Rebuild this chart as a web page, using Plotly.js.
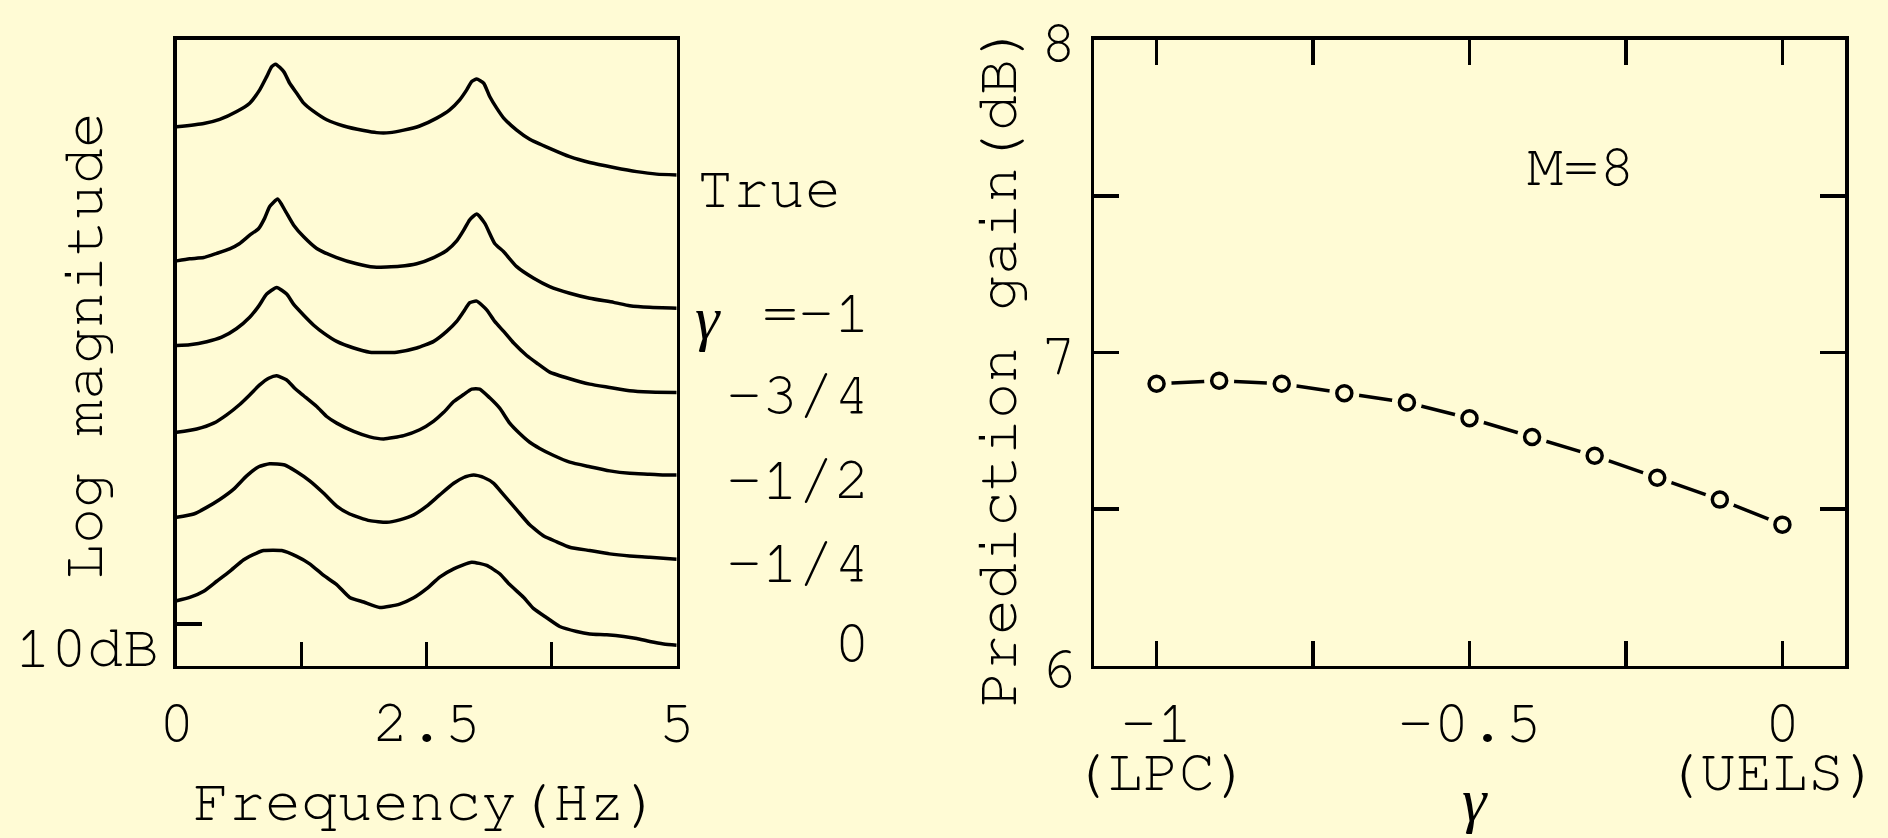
<!DOCTYPE html>
<html>
<head>
<meta charset="utf-8">
<script src="https://cdn.plot.ly/plotly-3.0.1.min.js"></script>
<style>
  html, body { margin: 0; padding: 0; background: #FFFBD5; }
  #chart { width: 1888px; height: 838px; }
</style>
</head>
<body>
<div id="chart"></div>
<script>
// ---- Left panel: log-magnitude spectra (stacked, dB), frequency in Hz ----
const fTrue   = [0, 0.27, 0.43, 0.6, 0.73, 0.83, 0.9, 0.95, 0.99, 1.07, 1.13, 1.2, 1.27, 1.37, 1.5, 1.67, 1.87, 2.0, 2.13, 2.27, 2.43, 2.6, 2.73, 2.83, 2.9, 2.95, 3.0, 3.07, 3.13, 3.2, 3.27, 3.4, 3.53, 3.73, 3.93, 4.13, 4.37, 4.6, 4.8, 5.0];
const magTrue = [129.8, 130.6, 131.6, 133.5, 135.5, 138.7, 141.9, 144.3, 144.9, 143.1, 140.3, 137.9, 135.5, 133.5, 131.5, 130.0, 128.9, 128.4, 128.4, 129.0, 130.0, 131.9, 133.9, 136.3, 138.7, 140.7, 141.3, 140.3, 137.1, 134.3, 131.9, 129.0, 126.8, 124.6, 122.6, 121.2, 120.0, 119.0, 118.4, 118.2];

const fG1   = [0, 0.13, 0.27, 0.4, 0.53, 0.63, 0.73, 0.82, 0.88, 0.93, 1.01, 1.08, 1.17, 1.27, 1.4, 1.6, 1.8, 1.97, 2.23, 2.4, 2.57, 2.7, 2.8, 2.87, 2.93, 3.0, 3.08, 3.18, 3.27, 3.4, 3.57, 3.73, 3.93, 4.13, 4.37, 4.53, 4.73, 5.0];
const magG1 = [97.5, 98.0, 98.3, 99.3, 100.4, 101.7, 103.7, 105.3, 107.8, 110.6, 112.4, 109.8, 106.1, 103.3, 100.5, 98.3, 96.8, 96.0, 96.2, 96.8, 98.3, 100.0, 102.3, 104.9, 107.4, 108.8, 106.6, 101.7, 99.7, 96.1, 93.3, 91.3, 89.7, 88.5, 87.5, 86.7, 86.3, 86.1];

const fG34   = [0, 0.13, 0.3, 0.45, 0.6, 0.73, 0.82, 0.9, 1.0, 1.1, 1.17, 1.27, 1.37, 1.47, 1.6, 1.77, 1.93, 2.2, 2.4, 2.57, 2.7, 2.8, 2.87, 2.93, 3.0, 3.1, 3.18, 3.27, 3.37, 3.5, 3.6, 3.73, 3.93, 4.13, 4.33, 4.53, 4.73, 5.0];
const magG34 = [77.1, 77.3, 78.0, 79.1, 81.2, 83.9, 86.6, 89.5, 91.1, 89.5, 87.0, 84.4, 82.0, 80.1, 78.1, 76.5, 75.5, 75.5, 76.5, 78.1, 80.5, 82.9, 85.3, 87.4, 87.8, 85.7, 82.9, 80.5, 77.7, 74.7, 72.9, 70.7, 69.1, 67.8, 67.0, 66.2, 65.9, 65.8];

const fG12   = [0, 0.2, 0.37, 0.5, 0.63, 0.73, 0.83, 0.92, 1.0, 1.1, 1.18, 1.27, 1.4, 1.5, 1.6, 1.77, 1.93, 2.07, 2.27, 2.43, 2.57, 2.67, 2.77, 2.87, 2.95, 3.03, 3.13, 3.23, 3.33, 3.43, 3.53, 3.63, 3.77, 3.93, 4.13, 4.33, 4.53, 4.73, 4.87, 5.0];
const magG12 = [56.2, 57.0, 58.4, 60.4, 62.9, 65.2, 67.6, 69.2, 69.8, 68.8, 66.8, 65.0, 62.4, 60.0, 58.4, 56.4, 55.1, 54.6, 55.4, 56.8, 58.9, 61.0, 63.6, 65.3, 66.6, 66.6, 64.5, 62.0, 58.4, 55.9, 53.8, 52.3, 50.6, 49.0, 47.9, 46.9, 46.3, 46.1, 45.9, 45.9];

const fG14   = [0, 0.17, 0.3, 0.43, 0.57, 0.7, 0.82, 0.93, 1.08, 1.2, 1.33, 1.47, 1.6, 1.73, 1.93, 2.1, 2.23, 2.37, 2.5, 2.63, 2.77, 2.87, 2.97, 3.07, 3.17, 3.27, 3.4, 3.53, 3.67, 3.8, 3.93, 4.13, 4.33, 4.53, 4.73, 5.0];
const magG14 = [35.7, 36.5, 38.1, 40.0, 42.5, 45.7, 47.9, 48.6, 48.3, 46.7, 44.5, 41.5, 38.4, 36.5, 34.9, 34.5, 35.1, 36.3, 38.4, 41.1, 43.9, 45.3, 45.9, 45.3, 43.9, 41.1, 37.5, 33.9, 31.2, 29.8, 28.5, 27.7, 26.9, 26.4, 26.1, 25.6];

const fG0   = [0, 0.13, 0.27, 0.4, 0.53, 0.67, 0.8, 0.87, 1.05, 1.2, 1.33, 1.47, 1.6, 1.73, 1.87, 2.03, 2.23, 2.37, 2.5, 2.63, 2.77, 2.95, 3.1, 3.23, 3.33, 3.47, 3.57, 3.7, 3.83, 4.0, 4.13, 4.3, 4.47, 4.6, 4.73, 4.87, 5.0];
const magG0 = [15.6, 16.4, 17.9, 20.3, 22.7, 25.5, 27.1, 27.7, 27.7, 26.3, 24.5, 21.7, 19.5, 16.4, 15.3, 14.0, 14.8, 16.3, 18.5, 21.3, 23.3, 24.9, 24.1, 22.1, 19.5, 16.4, 13.7, 11.5, 9.4, 8.2, 7.6, 7.4, 7.0, 6.5, 5.8, 5.2, 4.9];

const spectraLabels = ['True', '=-1', '-3/4', '-1/2', '-1/4', '0'];
const freqTickVals = [0, 1.25, 2.5, 3.75, 5];
const freqTickText = ['0', '', '2.5', '', '5'];
const scaleBarDb = [10];

// ---- Right panel: prediction gain vs gamma ----
const gammaVals = [-1, -0.9, -0.8, -0.7, -0.6, -0.5, -0.4, -0.3, -0.2, -0.1, 0];
const gainDb    = [6.90, 6.91, 6.90, 6.87, 6.84, 6.79, 6.73, 6.67, 6.60, 6.53, 6.45];
const gammaTickVals = [-1, -0.75, -0.5, -0.25, 0];
const gammaTickText = ['-1', '', '-0.5', '', '0'];
const gainTickVals = [6, 6.5, 7, 7.5, 8];
const gainTickText = ['6', '', '7', '', '8'];

// ---- styling ----
const BG = '#FFFBD5';
const INK = '#000000';
const MONO = '"Nimbus Mono PS", "Nimbus Mono L", FreeMono, "Courier New", Courier, "Liberation Mono", monospace';
const SERIF = '"Liberation Serif", "Times New Roman", serif';
const FS = 60;
const W = 1888, H = 838;
const px = v => v / W;
const py = v => 1 - v / H;

const spectra = [
  [fTrue, magTrue], [fG1, magG1], [fG34, magG34],
  [fG12, magG12], [fG14, magG14], [fG0, magG0]
];

const traces = spectra.map(([f, m]) => ({
  x: f, y: m, xaxis: 'x', yaxis: 'y',
  mode: 'lines', line: { color: INK, width: 3.5, shape: 'spline', smoothing: 0.5 },
  hoverinfo: 'skip'
}));

traces.push({
  x: gammaVals, y: gainDb, xaxis: 'x2', yaxis: 'y2',
  mode: 'lines', line: { color: INK, width: 3.5 }, hoverinfo: 'skip'
});
// background discs leave a small gap between each segment and its circle
traces.push({
  x: gammaVals, y: gainDb, xaxis: 'x2', yaxis: 'y2',
  mode: 'markers', marker: { size: 30, color: BG, line: { width: 0 } },
  hoverinfo: 'skip'
});
traces.push({
  x: gammaVals, y: gainDb, xaxis: 'x2', yaxis: 'y2',
  mode: 'markers',
  marker: { symbol: 'circle-open', size: 15, color: INK, line: { width: 3.5, color: INK } },
  hoverinfo: 'skip'
});

const yDomain = [py(665.5), py(39.5)];
const axisBase = {
  showgrid: false, zeroline: false, showline: true, linecolor: INK, linewidth: 3.5,
  ticks: 'inside', tickcolor: INK, tickwidth: 3.5, tickangle: 0,
  tickfont: { family: MONO, size: FS, color: INK }
};

const ann = (text, x, y, extra) => Object.assign({
  text: text, xref: 'paper', yref: 'paper', x: px(x), y: py(y),
  xanchor: 'center', yanchor: 'middle', showarrow: false,
  font: { family: MONO, size: FS, color: INK }
}, extra || {});

const labelY = [189, 313, 395, 480, 563, 643];
const annotations = [
  ann('Log magnitude', 84, 346, { textangle: -90 }),
  ann('10dB', 161, 648, { xanchor: 'right' }),
  ann('Frequency(Hz)', 427, 802),
  ann(spectraLabels[0], 695, labelY[0], { xanchor: 'left' }),
  ann('γ', 693, 318, { xanchor: 'left', font: { family: SERIF, size: 62, color: INK, style: 'italic' } }),
  ann('Prediction gain(dB)', 998, 365, { textangle: -90 }),
  ann('M=8', 1581, 167),
  ann('(LPC)', 1161, 772),
  ann('(UELS)', 1772, 772),
  ann('γ', 1475, 800, { font: { family: SERIF, size: 62, color: INK, style: 'italic' } })
];
for (let i = 1; i < spectraLabels.length; i++) {
  annotations.push(ann(spectraLabels[i], 872, labelY[i], { xanchor: 'right' }));
}

const layout = {
  width: W, height: H,
  margin: { l: 0, r: 0, t: 0, b: 0, pad: 0 },
  paper_bgcolor: BG, plot_bgcolor: BG,
  showlegend: false,
  xaxis: Object.assign({}, axisBase, {
    domain: [px(176.7), px(676.7)], range: [0, 5], anchor: 'y',
    tickvals: freqTickVals, ticktext: freqTickText, ticklen: 24,
    mirror: true, ticklabelstandoff: 0
  }),
  yaxis: Object.assign({}, axisBase, {
    domain: yDomain, range: [0, 150.84], anchor: 'x',
    tickvals: scaleBarDb, ticklen: 25, showticklabels: false, mirror: true
  }),
  xaxis2: Object.assign({}, axisBase, {
    domain: [px(1094), px(1845)], range: [-1.1, 0.1], anchor: 'y2',
    tickvals: gammaTickVals, ticktext: gammaTickText, ticklen: 25,
    mirror: 'ticks', ticklabelstandoff: 0
  }),
  yaxis2: Object.assign({}, axisBase, {
    domain: yDomain, range: [6, 8], anchor: 'x2',
    tickvals: gainTickVals, ticktext: gainTickText, ticklen: 25,
    mirror: 'ticks', ticklabelstandoff: 2
  }),
  annotations: annotations
};

Plotly.newPlot('chart', traces, layout, { displayModeBar: false, staticPlot: true });
</script>
</body>
</html>
